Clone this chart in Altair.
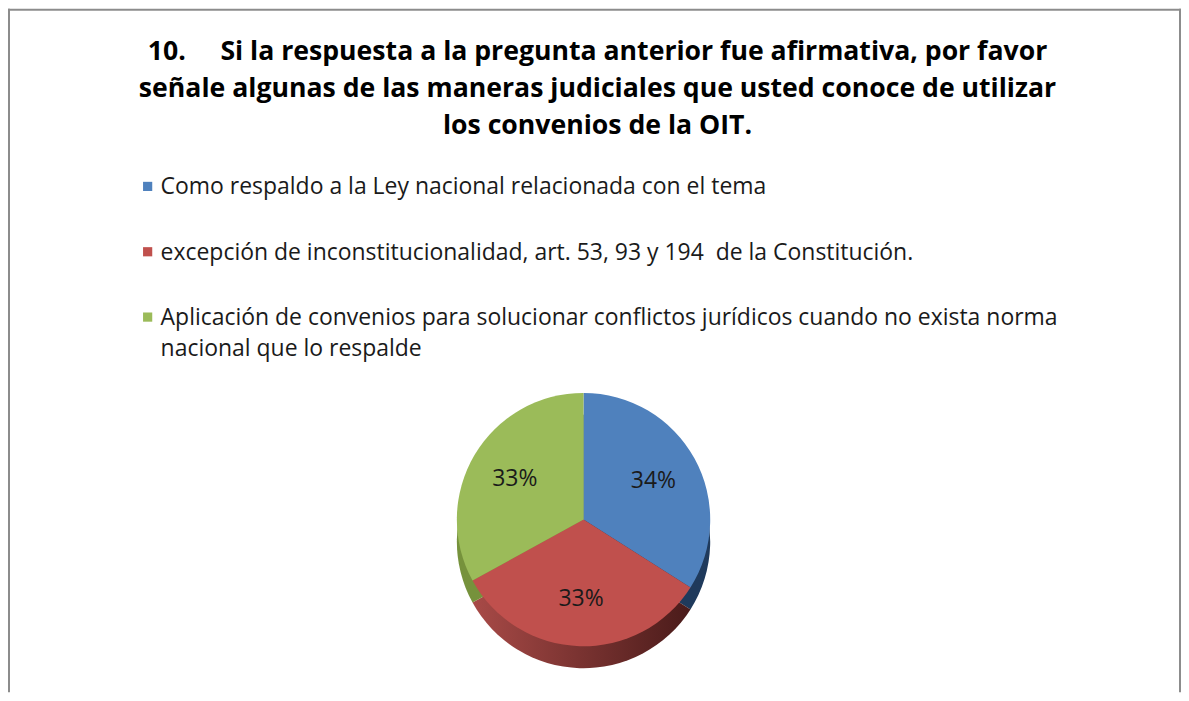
import altair as alt
import pandas as pd

# ---- data ----
title_lines = [
    "10.\u00a0\u00a0\u00a0\u00a0\u00a0Si la respuesta a la pregunta anterior fue afirmativa, por favor",
    "señale algunas de las maneras judiciales que usted conoce de utilizar",
    "los convenios de la OIT.",
]
categories = [
    "Como respaldo a la Ley nacional relacionada con el tema",
    "excepción de inconstitucionalidad, art. 53, 93 y 194\u00a0 de la Constitución.",
    "Aplicación de convenios para solucionar conflictos jurídicos cuando no exista norma\nnacional que lo respalde",
]
values = [34, 33, 33]
order = [0, 1, 2]
top_colors = ["#4f81bd", "#c0504d", "#9bbb59"]
side_colors = ["#1f3a5c", "#7a302e", "#76923c"]

FONT = "Open Sans"
W, H = 1176, 685
CX, CY, R, DEPTH = 577, 512, 127, 22

df = pd.DataFrame({"cat": categories, "value": values, "order": order})
one = pd.DataFrame({"k": [0]})

color_scale = alt.Scale(domain=categories, range=top_colors)
side_scale = alt.Scale(domain=categories, range=side_colors)

red_grad = {
    "gradient": "linear", "x1": 0, "x2": 1, "y1": 0, "y2": 0,
    "stops": [{"offset": 0, "color": "#a84a47"}, {"offset": 1, "color": "#4a1b1a"}],
}

base = alt.Chart(df)

side = base.mark_arc(radius=R, strokeWidth=0).encode(
    theta=alt.Theta("value:Q", stack=True),
    order=alt.Order("order:Q"),
    fill=alt.condition(alt.datum.order == 1, alt.value(red_grad),
                       alt.Fill("cat:N", scale=side_scale, legend=None)),
    x=alt.value(CX), y=alt.value(CY + DEPTH),
)

top = base.mark_arc(radius=R, strokeWidth=0).encode(
    theta=alt.Theta("value:Q", stack=True),
    order=alt.Order("order:Q"),
    color=alt.Color("cat:N", scale=color_scale, legend=None),
    x=alt.value(CX), y=alt.value(CY),
)

labels = base.transform_joinaggregate(total="sum(value)").transform_calculate(
    pct="datum.value / datum.total"
).mark_text(radius=80, fontSize=23, font=FONT, color="#1a1a1a", baseline="middle").encode(
    theta=alt.Theta("value:Q", stack=True),
    order=alt.Order("order:Q"),
    text=alt.Text("pct:Q", format=".0%"),
    x=alt.value(CX), y=alt.value(CY),
)

leg_y = alt.Y("order:Q", scale=alt.Scale(domain=[0, 2], range=[186, 317]), axis=None)
leg_sq = base.mark_square(size=85, opacity=1, yOffset=-8).encode(
    x=alt.value(140), y=leg_y,
    color=alt.Color("cat:N", scale=color_scale, legend=None),
)
leg_tx = base.mark_text(align="left", baseline="alphabetic", lineBreak="\n", lineHeight=31,
                        fontSize=23, font=FONT, color="#1a1a1a").encode(
    x=alt.value(153), y=leg_y, text="cat:N",
)

title = alt.Chart(one).mark_text(align="center", baseline="alphabetic", lineBreak="\n",
                                 lineHeight=37, fontSize=26.7, font=FONT, fontWeight="bold",
                                 color="#000000").encode(
    x=alt.value(591), y=alt.value(51), text=alt.value("\n".join(title_lines)),
)

frame_l = alt.Chart(one).mark_rule(color="#8c8c8c", strokeWidth=2).encode(
    x=alt.value(1), y=alt.value(0), y2=alt.value(H))
frame_t = alt.Chart(one).mark_rule(color="#8c8c8c", strokeWidth=2).encode(
    x=alt.value(0), x2=alt.value(W), y=alt.value(1))
frame_r = alt.Chart(one).mark_rule(color="#8c8c8c", strokeWidth=2).encode(
    x=alt.value(W - 1), y=alt.value(0), y2=alt.value(H))

chart = alt.layer(side, top, labels, leg_sq, leg_tx, title, frame_l, frame_t, frame_r).properties(
    width=W, height=H, padding=0, autosize="none", background="white"
).configure_view(stroke=None)

chart.save("out.html", embed_options={"renderer": "svg", "actions": False})
